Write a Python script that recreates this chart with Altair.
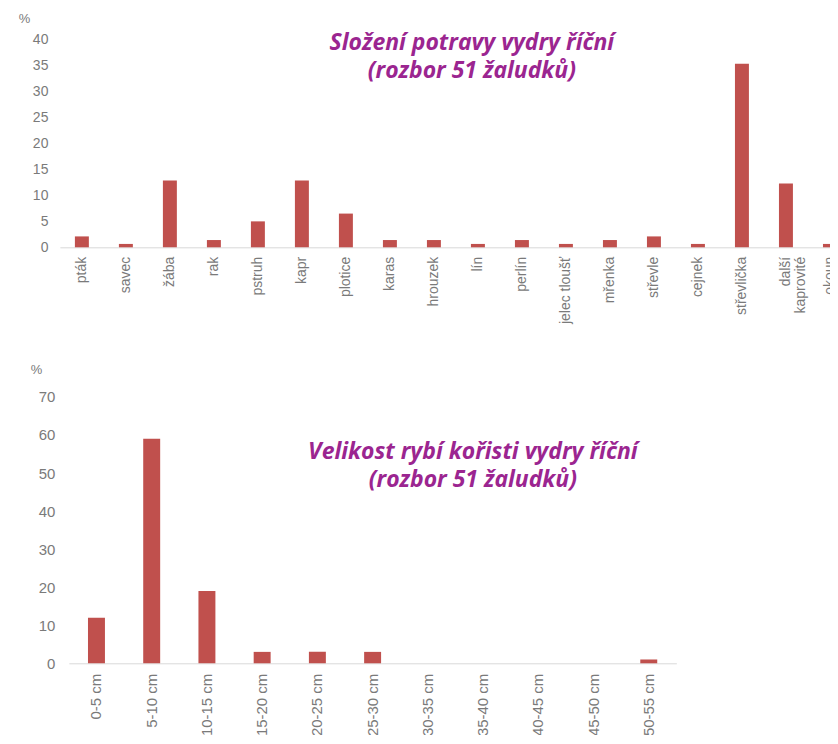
import altair as alt
import pandas as pd

cats_food = ["pták", "savec", "žába", "rak", "pstruh", "kapr", "plotice", "karas",
             "hrouzek", "lín", "perlín", "jelec tloušť", "mřenka", "střevle", "cejnek",
             "střevlička", "další kaprovité", "okoun"]
vals_food = [2.1, 0.65, 12.9, 1.4, 5.0, 12.9, 6.5, 1.4, 1.4, 0.65, 1.4, 0.65, 1.4, 2.1,
             0.65, 35.4, 12.3, 0.65]

cats_size = ["0-5 cm", "5-10 cm", "10-15 cm", "15-20 cm", "20-25 cm", "25-30 cm",
             "30-35 cm", "35-40 cm", "40-45 cm", "45-50 cm", "50-55 cm"]
vals_size = [12, 59, 19, 3, 3, 3, 0, 0, 0, 0, 1]

title_food = ["Složení potravy vydry říční", "(rozbor 51 žaludků)"]
title_size = ["Velikost rybí kořisti vydry říční", "(rozbor 51 žaludků)"]

df1 = pd.DataFrame({"cat": cats_food, "val": vals_food})
df2 = pd.DataFrame({"cat": cats_size, "val": vals_size})

BAR = "#C0504D"
LAB = "#7a7a7a"
PURPLE = "#9B2590"
AXIS = "#d9d9d9"
FONT = "Liberation Sans"

top = alt.Chart(df1).mark_bar(color=BAR, size=14).encode(
    x=alt.X("cat:N", sort=cats_food, title=None,
            axis=alt.Axis(labelAngle=-90, ticks=False, labelPadding=9, labelFontSize=14,
                          labelColor=LAB, labelFont=FONT, domainColor=AXIS,
                          labelLineHeight=15, labelLimit=200,
                          labelExpr="datum.value == 'další kaprovité' ? ['další', 'kaprovité'] : datum.value")),
    y=alt.Y("val:Q", scale=alt.Scale(domain=[0, 40]),
            axis=alt.Axis(values=[0, 5, 10, 15, 20, 25, 30, 35, 40], grid=False, domain=False,
                          ticks=False, labelPadding=12, labelFontSize=14, labelColor=LAB,
                          labelFont=FONT, title="%", titleAngle=0, titleX=-36, titleY=-21,
                          titleAlign="center", titleBaseline="middle", titleFontSize=13,
                          titleFontWeight="normal", titleColor=LAB, titleFont=FONT)),
).properties(
    width=794, height=208,
    title=alt.TitleParams(title_food, font="Open Sans", fontSize=23, fontWeight="bold",
                          fontStyle="italic", color=PURPLE, anchor="middle", frame="group",
                          dx=16, dy=74, lineHeight=28),
)

bottom = alt.Chart(df2).mark_bar(color=BAR, size=17).encode(
    x=alt.X("cat:N", sort=cats_size, title=None,
            scale=alt.Scale(range=[9, 618]),
            axis=alt.Axis(labelAngle=-90, ticks=False, labelPadding=10, labelFontSize=15,
                          labelColor=LAB, labelFont=FONT, domainColor=AXIS)),
    y=alt.Y("val:Q", scale=alt.Scale(domain=[0, 70]),
            axis=alt.Axis(values=[0, 10, 20, 30, 40, 50, 60, 70], grid=False, domain=False,
                          ticks=False, labelPadding=5, labelFontSize=15, labelColor=LAB,
                          labelFont=FONT, title="%", titleAngle=0, titleX=-24, titleY=-27,
                          titleAlign="center", titleBaseline="middle", titleFontSize=13,
                          titleFontWeight="normal", titleColor=LAB, titleFont=FONT)),
).properties(
    width=618, height=267,
    title=alt.TitleParams(title_size, font="Open Sans", fontSize=23, fontWeight="bold",
                          fontStyle="italic", color=PURPLE, anchor="middle", frame="group",
                          dx=105, dy=132, lineHeight=28),
)

chart = alt.vconcat(top, bottom, spacing=38).properties(
    padding={"left": 9, "top": 3, "right": -23, "bottom": -3}
).configure_view(stroke="transparent")

chart.save("out.html", embed_options={"renderer": "svg", "actions": False})
